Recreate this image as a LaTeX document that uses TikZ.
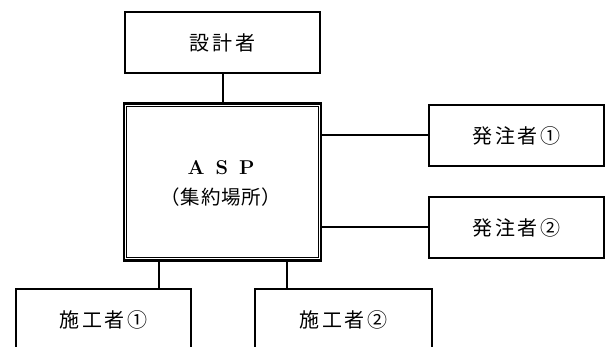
\documentclass[tikz,border=0pt]{standalone}
\usepackage{fontspec}
\newfontfamily\cjk[LetterSpace=14]{Noto Sans CJK JP}
\newfontfamily\cjkb[LetterSpace=4]{Noto Sans CJK JP}
\begin{document}
\begin{tikzpicture}[x=1pt,y=-1pt,
  box/.style={draw,line width=2pt,inner sep=0pt,font=\cjk\fontsize{20}{22}\selectfont},
  link/.style={line width=2pt}]
\useasboundingbox (0,0) rectangle (605,347);
\clip (0,0) rectangle (605,347);
% boxes
\node[box,minimum width=195,minimum height=61] (des) at (222.5,43) {設計者};
\node[box,minimum width=175,minimum height=61] (o1) at (516.5,135.5) {発注者①};
\node[box,minimum width=175,minimum height=61] (o2) at (516.5,227.5) {発注者②};
\node[box,minimum width=175,minimum height=62] (c1) at (103.5,320) {施工者①};
\node[box,minimum width=177,minimum height=62] (c2) at (343.5,320) {施工者②};
% ASP double box
\node[draw,line width=2.8pt,minimum width=197,minimum height=157,inner sep=0pt] (asp) at (222.5,182) {};
\draw[line width=1pt] ([shift={(4.3,-4.3)}]asp.south west) rectangle ([shift={(-4.3,4.3)}]asp.north east);
\node[font=\bfseries\fontsize{20}{22}\selectfont] (asptxt) at (221,168) {A\hspace{0.55em}S\hspace{0.55em}P};
\node[font=\cjkb\fontsize{19.5}{22}\selectfont] (asploc) at (221,197) {（集約場所）};
% connectors
\draw[link] (des.south) -- (asp.north);
\draw[link] (asp.east |- o1.west) -- (o1.west);
\draw[link] (asp.east |- o2.west) -- (o2.west);
\draw[link] (asp.south -| c1.north) ++(55,0) coordinate (b1) -- (b1 |- c1.north);
\draw[link] (asp.south -| c2.north) ++(-56.5,0) coordinate (b2) -- (b2 |- c2.north);
\end{tikzpicture}
\end{document}
